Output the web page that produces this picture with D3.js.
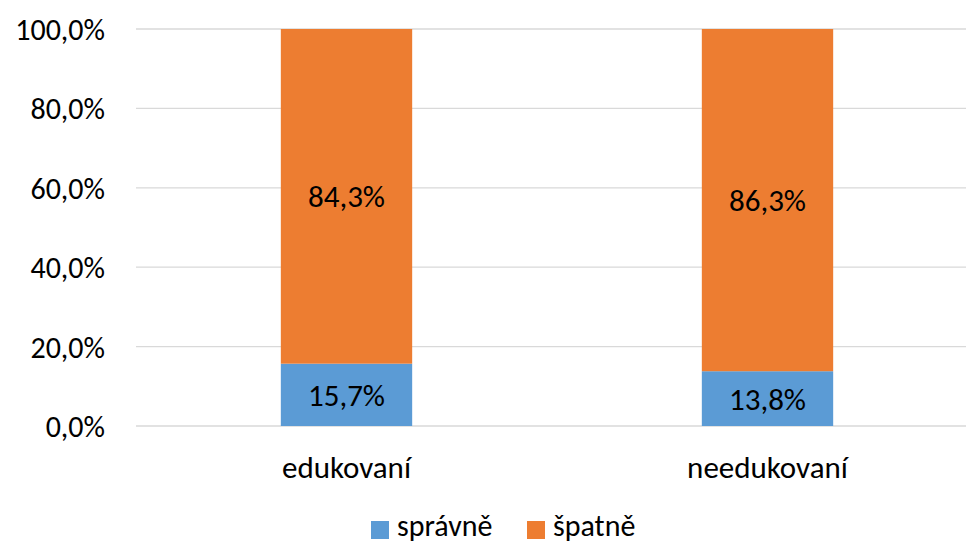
<!DOCTYPE html>
<html>
<head>
<meta charset="utf-8">
<script src="https://cdn.jsdelivr.net/npm/d3@7"></script>
<style>
  html, body { margin: 0; padding: 0; background: #fff; }
  svg { display: block; font-family: Carlito, Lato, "Open Sans", sans-serif; }
</style>
</head>
<body>
<svg id="chart" width="966" height="543"></svg>
<script>
// Share of correct / wrong answers per group (percent)
const categories = ["edukovaní", "needukovaní"];
const seriesNames = ["správně", "špatně"];
const spravne = [15.7, 13.8];
const spatne = [84.3, 86.3];
const yTicks = [0, 20, 40, 60, 80, 100];
const colors = ["#5B9BD5", "#ED7D31"];

const svg = d3.select("#chart");
const plot = { left: 136, right: 978, top: 29, bottom: 426 };

const x = d3.scaleBand().domain(categories).range([plot.left, plot.right]).padding(0);
const y = d3.scaleLinear().domain([0, 100]).range([plot.bottom, plot.top]);
const barW = x.bandwidth() * 0.312;

const fmt = v => d3.format(".1f")(v).replace(".", ",") + "%";

// gridlines
svg.append("g").selectAll("line").data(yTicks).join("line")
  .attr("x1", plot.left).attr("x2", plot.right)
  .attr("y1", d => y(d)).attr("y2", d => y(d))
  .attr("stroke", "#D9D9D9").attr("stroke-width", 1.3);

// y axis labels
const yAxis = svg.append("g").attr("transform", `translate(${plot.left - 31},0)`)
  .call(d3.axisLeft(y).tickValues(yTicks).tickFormat(fmt).tickSize(0).tickPadding(0));
yAxis.select(".domain").remove();
yAxis.selectAll("text").attr("font-size", 30).attr("fill", "#000")
  .attr("font-family", "Carlito, Lato, 'Open Sans', sans-serif")
  .attr("dy", "0.35em");

// stacked data
const rows = categories.map((c, i) => ({ cat: c, "správně": spravne[i], "špatně": spatne[i] }));
const stack = d3.stack().keys(seriesNames)(rows);

const g = svg.append("g");
stack.forEach((layer, li) => {
  layer.forEach(seg => {
    const cx = x(seg.data.cat) + x.bandwidth() / 2;
    const y0 = y(seg[0]), y1 = y(Math.min(seg[1], 100));
    g.append("rect")
      .attr("x", cx - barW / 2).attr("width", barW)
      .attr("y", y1).attr("height", y0 - y1)
      .attr("fill", colors[li]);
    g.append("text")
      .attr("x", cx).attr("y", (y0 + y1) / 2)
      .attr("dy", "0.36em")
      .attr("text-anchor", "middle")
      .attr("font-size", 31).attr("fill", "#000")
      .text(fmt(seg.data[layer.key]));
  });
});

// category labels
svg.append("g").selectAll("text").data(categories).join("text")
  .attr("x", d => x(d) + x.bandwidth() / 2)
  .attr("y", 478)
  .attr("text-anchor", "middle")
  .attr("font-size", 31).attr("fill", "#000")
  .text(d => d);

// legend
const legendX = [371, 527];
const lg = svg.append("g");
seriesNames.forEach((s, i) => {
  lg.append("rect").attr("x", legendX[i]).attr("y", 521).attr("width", 18).attr("height", 18)
    .attr("fill", colors[i]);
  lg.append("text").attr("x", legendX[i] + 26).attr("y", 536)
    .attr("font-size", 30).attr("fill", "#000").text(s);
});
</script>
</body>
</html>
